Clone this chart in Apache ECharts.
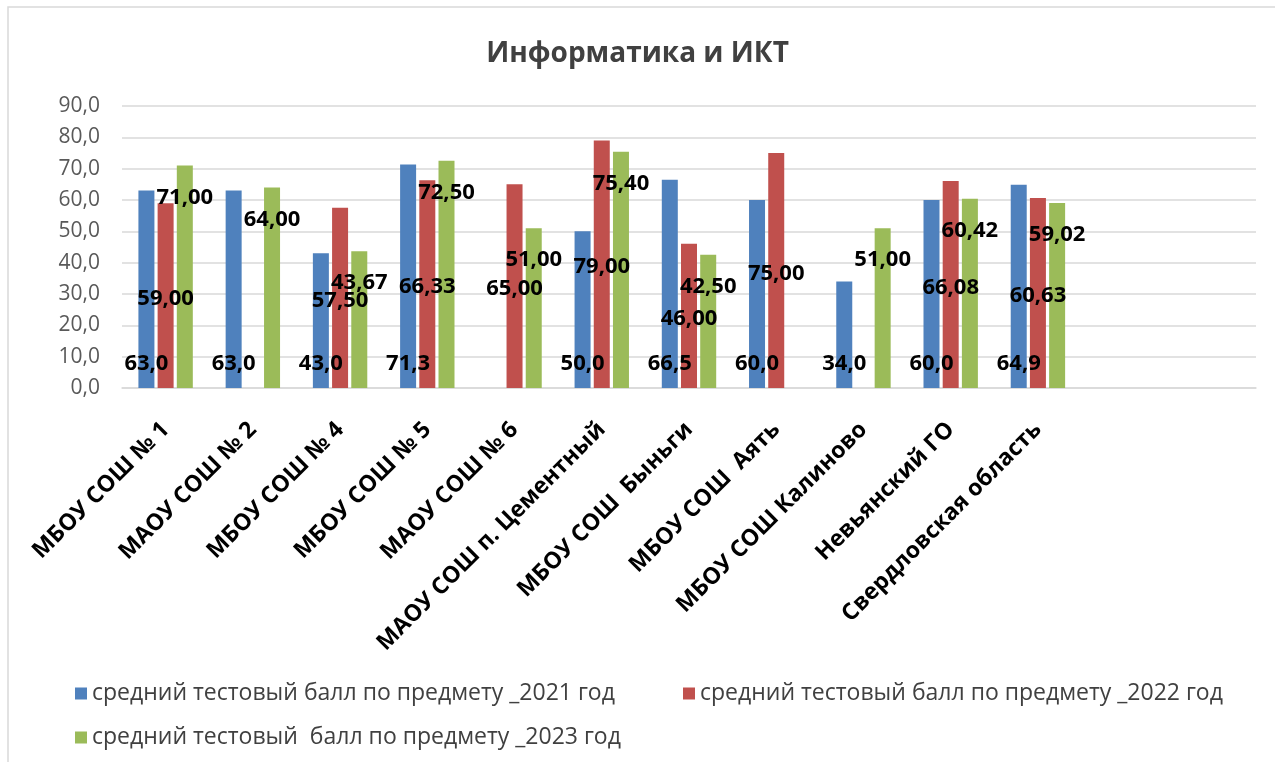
<!DOCTYPE html>
<html>
<head>
<meta charset="utf-8">
<script src="https://cdn.jsdelivr.net/npm/echarts@6/dist/echarts.min.js"></script>
<style>
html,body{margin:0;padding:0;background:#fff;}
#chart{width:1275px;height:762px;}
</style>
</head>
<body>
<div id="chart"></div>
<script>
const titleText = 'Информатика и ИКТ';
const categories = ['МБОУ СОШ № 1', 'МАОУ СОШ № 2', 'МБОУ СОШ № 4', 'МБОУ СОШ № 5', 'МАОУ СОШ № 6',
  'МАОУ СОШ п. Цементный', 'МБОУ СОШ  Быньги', 'МБОУ СОШ  Аять', 'МБОУ СОШ Калиново',
  'Невьянский ГО', 'Свердловская область', '', ''];
const seriesNames = ['средний тестовый балл по предмету _2021 год',
  'средний тестовый балл по предмету _2022 год',
  'средний тестовый  балл по предмету _2023 год'];
const values2021 = [63.0, 63.0, 43.0, 71.3, null, 50.0, 66.5, 60.0, 34.0, 60.0, 64.9, null, null];
const values2022 = [59.00, null, 57.50, 66.33, 65.00, 79.00, 46.00, 75.00, null, 66.08, 60.63, null, null];
const values2023 = [71.00, 64.00, 43.67, 72.50, 51.00, 75.40, 42.50, null, 51.00, 60.42, 59.02, null, null];
const yTicks = {min: 0, max: 90, interval: 10};

const colors = ['#4F81BD', '#C0504D', '#9BBB59'];
const FONT = '"Open Sans", "Noto Sans", sans-serif';
const fmt = (v, d) => v.toFixed(d).replace('.', ',');

const labelBase = {show: true, color: '#000', fontFamily: FONT, fontWeight: 'bold', fontSize: 22, offset: [0, 3]};

const chart = echarts.init(document.getElementById('chart'), null, {renderer: 'canvas'});
chart.setOption({
  animation: false,
  backgroundColor: '#fff',
  color: colors,
  title: {
    text: titleText, left: 'center', top: 35,
    textStyle: {fontFamily: FONT, fontWeight: 'bold', fontSize: 28, color: '#404040'}
  },
  graphic: [{
    type: 'rect', silent: true, z: -1,
    shape: {x: 8, y: 7, width: 1300, height: 800},
    style: {fill: 'none', stroke: '#D9D9D9', lineWidth: 1.5}
  }],
  legend: [
    {data: [seriesNames[0]], left: 70, top: 677},
    {data: [seriesNames[1]], left: 678, top: 677},
    {data: [seriesNames[2]], left: 70, top: 721}
  ].map(l => Object.assign(l, {
    icon: 'rect', itemWidth: 12, itemHeight: 12,
    textStyle: {fontFamily: FONT, fontSize: 23, color: '#404040'}
  })),
  grid: {left: 122, right: 19, top: 106, bottom: 374, containLabel: false},
  xAxis: {
    type: 'category', data: categories,
    axisLine: {lineStyle: {color: '#D9D9D9', width: 1.5}},
    axisTick: {show: false},
    axisLabel: {interval: 0, rotate: 45, margin: 38, fontFamily: FONT, fontWeight: 'bold', fontSize: 23, color: '#000'}
  },
  yAxis: {
    type: 'value', min: yTicks.min, max: yTicks.max, interval: yTicks.interval,
    axisLine: {show: false}, axisTick: {show: false},
    splitLine: {lineStyle: {color: '#D9D9D9', width: 1.5}},
    axisLabel: {margin: 22, fontFamily: FONT, fontSize: 21, color: '#595959', formatter: v => fmt(v, 1)}
  },
  series: [
    {name: seriesNames[0], type: 'bar', data: values2021, barWidth: 16, barGap: '20%',
      label: Object.assign({}, labelBase, {position: 'insideBottom', distance: 16, formatter: p => fmt(p.value, 1)})},
    {name: seriesNames[1], type: 'bar', data: values2022, barWidth: 16, barGap: '20%',
      label: Object.assign({}, labelBase, {position: 'inside', formatter: p => fmt(p.value, 2)})},
    {name: seriesNames[2], type: 'bar', data: values2023, barWidth: 16, barGap: '20%',
      label: Object.assign({}, labelBase, {position: 'insideTop', distance: 18, formatter: p => fmt(p.value, 2)})}
  ]
});
</script>
</body>
</html>
